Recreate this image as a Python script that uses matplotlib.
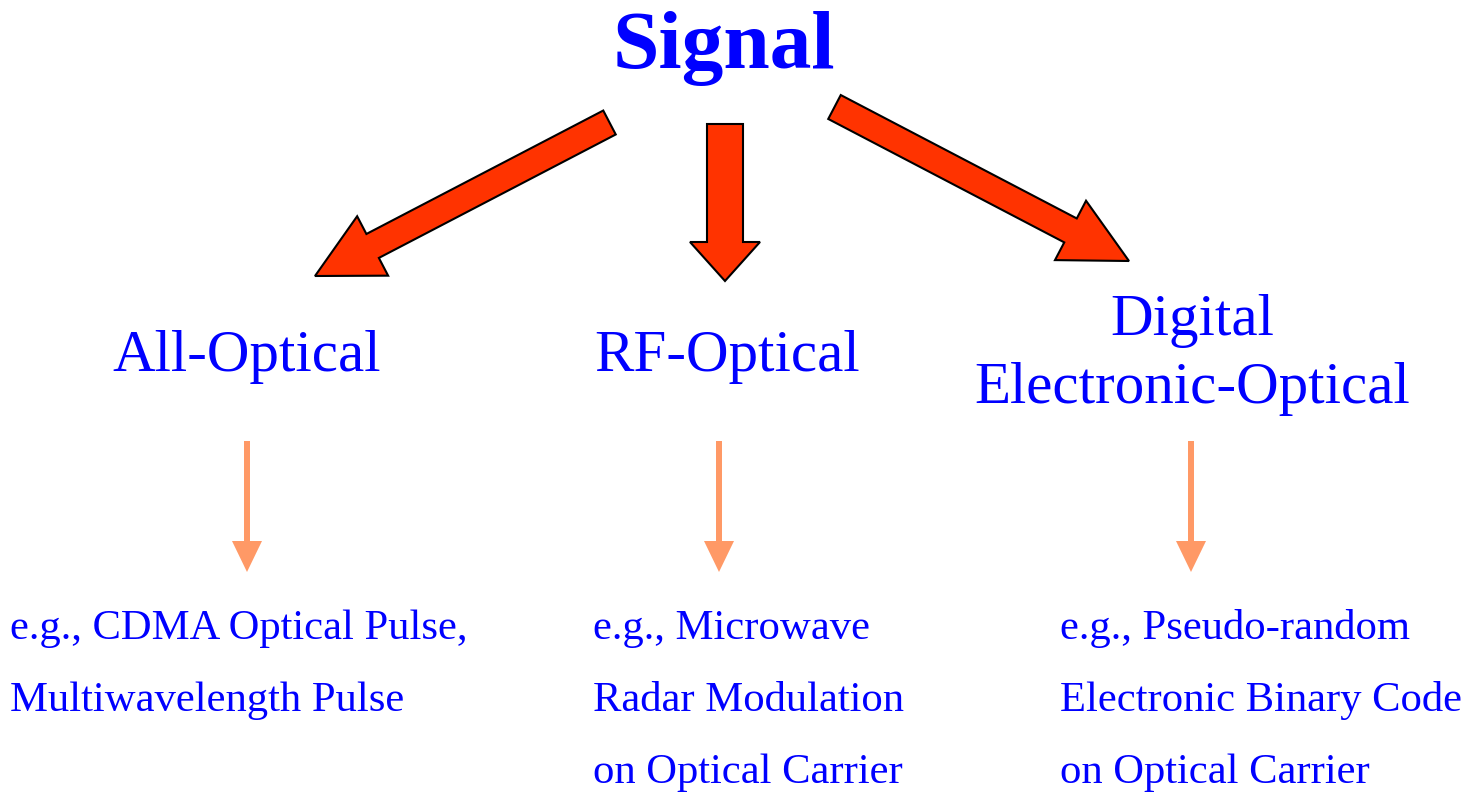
import matplotlib
matplotlib.use('Agg')
import matplotlib.pyplot as plt
from matplotlib.patches import FancyArrow

plt.rcParams['font.family'] = ['Liberation Serif', 'DejaVu Serif']

title = 'Signal'
branches = ['All-Optical', 'RF-Optical', 'Digital\nElectronic-Optical']
examples = [
    ['e.g., CDMA Optical Pulse,', 'Multiwavelength Pulse'],
    ['e.g., Microwave', 'Radar Modulation', 'on Optical Carrier'],
    ['e.g., Pseudo-random', 'Electronic Binary Code', 'on Optical Carrier'],
]

BLUE = '#0000ff'
RED = '#ff3300'
SALMON = '#ff9966'

W, H = 1474, 793
fig = plt.figure(figsize=(W / 100, H / 100), dpi=100)
ax = fig.add_axes([0, 0, 1, 1])
ax.set_xlim(0, W)
ax.set_ylim(H, 0)
ax.axis('off')

# title
ax.text(724, 68, title, ha='center', va='baseline', fontsize=60,
        fontweight='bold', color=BLUE)

# big red arrows (tail centre, tip, shaft width, head width, head length)
big = [((609.5, 122.5), (315, 276), 27, 67, 65),
       ((725, 124), (725, 281), 36, 70, 39),
       ((834.5, 107), (1129, 261), 27, 67, 66)]
for (x0, y0), (x1, y1), w, hw, hl in big:
    ax.add_patch(FancyArrow(x0, y0, x1 - x0, y1 - y0, width=w, head_width=hw,
                            head_length=hl, length_includes_head=True,
                            facecolor=RED, edgecolor='black', linewidth=1.5,
                            joinstyle='miter'))

# branch labels
ax.text(247, 371, branches[0], ha='center', va='baseline', fontsize=42.5, color=BLUE)
ax.text(727, 371, branches[1], ha='center', va='baseline', fontsize=42.5, color=BLUE)
lines = branches[2].split('\n')
ax.text(1192, 335, lines[0], ha='center', va='baseline', fontsize=42.5, color=BLUE)
ax.text(1192, 403, lines[1], ha='center', va='baseline', fontsize=42.5, color=BLUE)

# small arrows
for xc in [247, 719, 1191]:
    ax.add_patch(FancyArrow(xc, 441, 0, 131, width=6, head_width=30,
                            head_length=31, length_includes_head=True,
                            facecolor=SALMON, edgecolor='none'))

# examples
lefts = [10, 593, 1060]
for x, ex in zip(lefts, examples):
    for i, line in enumerate(ex):
        ax.text(x, 639 + i * 72, line, ha='left', va='baseline',
                fontsize=30.7, color=BLUE)

fig.savefig('out.png', dpi=100)
